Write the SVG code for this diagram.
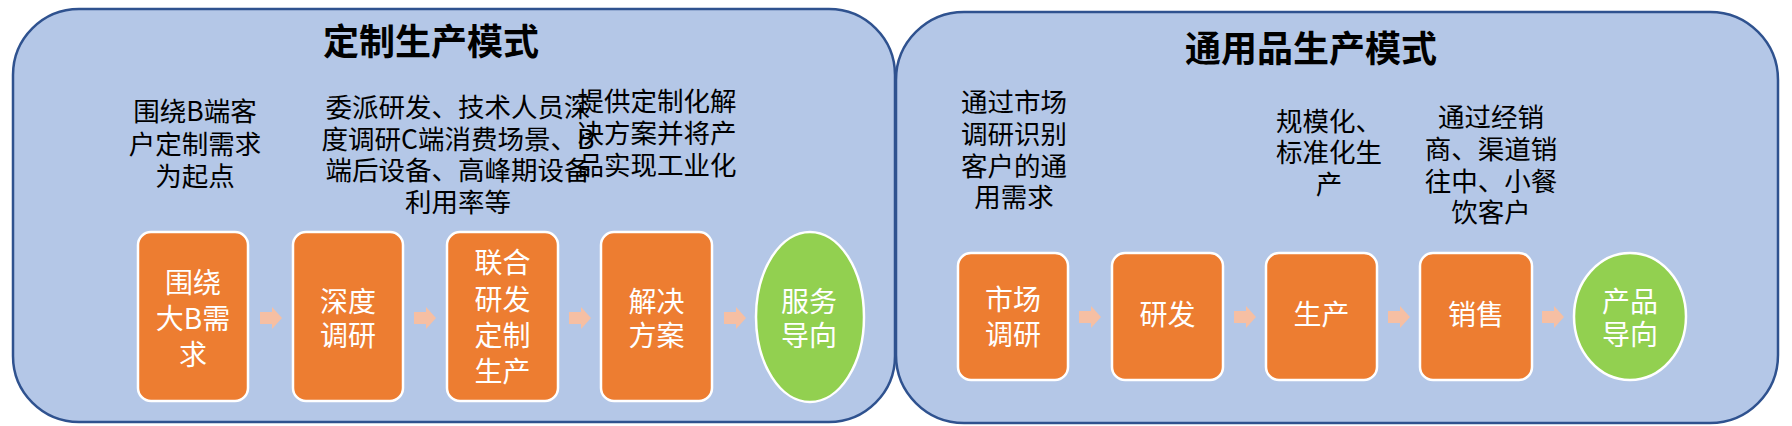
<svg xmlns="http://www.w3.org/2000/svg" width="1792" height="426" viewBox="0 0 1792 426">
<style>
.panel{fill:#B4C7E7;stroke:#2F528F;stroke-width:2.5}
.box{fill:#ED7D31;stroke:#FFFFFF;stroke-width:2.5}
.oval{fill:#92D050;stroke:#FFFFFF;stroke-width:2.5}
.title{font-family:"Noto Sans CJK SC","Noto Sans",sans-serif;font-size:36px;font-weight:bold;fill:#000;text-anchor:middle}
.desc{font-family:"Noto Sans CJK SC","Noto Sans",sans-serif;font-size:26.5px;fill:#000;text-anchor:middle}
.lbl{font-family:"Noto Sans CJK SC","Noto Sans",sans-serif;font-size:28px;fill:#FFFFFF;text-anchor:middle}
.arr{fill:#F6BFA3}
</style>
<defs>
<path id="arrow" d="M-11,-6 H1 V-11 L11,0 L1,11 V6 H-11 Z"/>
</defs>
<g id="panel-custom">
<rect class="panel" x="13" y="9" width="882" height="413" rx="66" ry="66"/>
<text class="title" x="431" y="55">定制生产模式</text>
</g>
<g id="panel-general">
<rect class="panel" x="896" y="12" width="882" height="411" rx="68" ry="68"/>
<text class="title" x="1311" y="62">通用品生产模式</text>
</g>
<g id="desc-custom-1">
<text class="desc" x="195" y="121">围绕B端客</text>
<text class="desc" x="195" y="154">户定制需求</text>
<text class="desc" x="195" y="186">为起点</text>
</g>
<g id="desc-custom-2">
<text class="desc" x="458" y="117">委派研发、技术人员深</text>
<text class="desc" x="458" y="148.5">度调研C端消费场景、B</text>
<text class="desc" x="458" y="180">端后设备、高峰期设备</text>
<text class="desc" x="458" y="211.5">利用率等</text>
</g>
<g id="desc-custom-3">
<text class="desc" x="657" y="111">提供定制化解</text>
<text class="desc" x="657" y="143">决方案并将产</text>
<text class="desc" x="657" y="175">品实现工业化</text>
</g>
<g id="desc-general-1">
<text class="desc" x="1014" y="112">通过市场</text>
<text class="desc" x="1014" y="144">调研识别</text>
<text class="desc" x="1014" y="176">客户的通</text>
<text class="desc" x="1014" y="207">用需求</text>
</g>
<g id="desc-general-2">
<text class="desc" x="1329" y="131">规模化、</text>
<text class="desc" x="1329" y="162">标准化生</text>
<text class="desc" x="1329" y="194">产</text>
</g>
<g id="desc-general-3">
<text class="desc" x="1491" y="127">通过经销</text>
<text class="desc" x="1491" y="159">商、渠道销</text>
<text class="desc" x="1491" y="191">往中、小餐</text>
<text class="desc" x="1491" y="222">饮客户</text>
</g>
<g id="node-c1">
<rect class="box" x="138" y="232" width="110" height="169" rx="13"/>
<text class="lbl" x="193" y="293">围绕</text>
<text class="lbl" x="193" y="329">大B需</text>
<text class="lbl" x="193" y="365">求</text>
</g>
<g id="node-c2">
<rect class="box" x="293" y="232" width="110" height="169" rx="13"/>
<text class="lbl" x="348" y="312">深度</text>
<text class="lbl" x="348" y="346">调研</text>
</g>
<g id="node-c3">
<rect class="box" x="447" y="232" width="111" height="169" rx="13"/>
<text class="lbl" x="502.5" y="273">联合</text>
<text class="lbl" x="502.5" y="310">研发</text>
<text class="lbl" x="502.5" y="346">定制</text>
<text class="lbl" x="502.5" y="382">生产</text>
</g>
<g id="node-c4">
<rect class="box" x="601" y="232" width="111" height="169" rx="13"/>
<text class="lbl" x="656.5" y="312">解决</text>
<text class="lbl" x="656.5" y="346">方案</text>
</g>
<g id="node-c5">
<ellipse class="oval" cx="810" cy="317" rx="54" ry="85"/>
<text class="lbl" x="809" y="312">服务</text>
<text class="lbl" x="809" y="346">导向</text>
</g>
<g id="node-g1">
<rect class="box" x="958" y="253" width="110" height="127" rx="13"/>
<text class="lbl" x="1013" y="310">市场</text>
<text class="lbl" x="1013" y="345">调研</text>
</g>
<g id="node-g2">
<rect class="box" x="1112" y="253" width="111" height="127" rx="13"/>
<text class="lbl" x="1167.5" y="325">研发</text>
</g>
<g id="node-g3">
<rect class="box" x="1266" y="253" width="111" height="127" rx="13"/>
<text class="lbl" x="1321.5" y="325">生产</text>
</g>
<g id="node-g4">
<rect class="box" x="1420" y="253" width="112" height="127" rx="13"/>
<text class="lbl" x="1476" y="325">销售</text>
</g>
<g id="node-g5">
<ellipse class="oval" cx="1630" cy="316.5" rx="56" ry="63.5"/>
<text class="lbl" x="1630" y="312">产品</text>
<text class="lbl" x="1630" y="345">导向</text>
</g>
<g id="connectors">
<use href="#arrow" class="arr" x="271" y="318"/>
<use href="#arrow" class="arr" x="425" y="318"/>
<use href="#arrow" class="arr" x="580" y="318"/>
<use href="#arrow" class="arr" x="735" y="318"/>
<use href="#arrow" class="arr" x="1090" y="317"/>
<use href="#arrow" class="arr" x="1245" y="317"/>
<use href="#arrow" class="arr" x="1399" y="317"/>
<use href="#arrow" class="arr" x="1553" y="317"/>
</g>
</svg>
